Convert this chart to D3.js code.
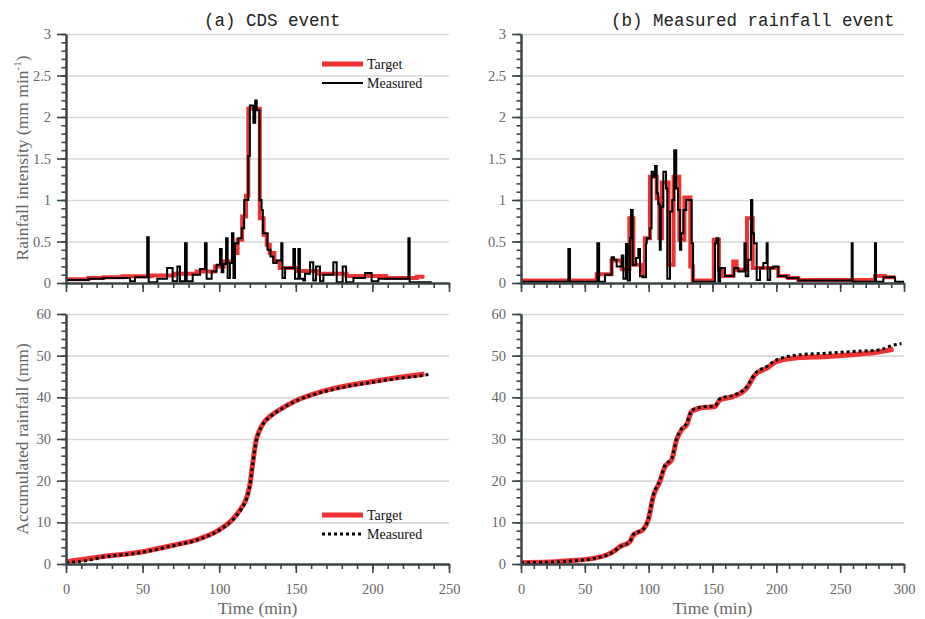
<!DOCTYPE html>
<html>
<head>
<meta charset="utf-8">
<script src="https://cdn.jsdelivr.net/npm/d3@7"></script>
<style>
body { margin: 0; background: #fff; }
</style>
</head>
<body>
<div id="chart-area"></div>
<script>

// ---- data: [time (min), value] ----

// (a) CDS event, rainfall intensity (mm/min), step series
const cdsTarget = [
    [0, 0.045], [14.6, 0.06], [24.4, 0.068], [36.8, 0.08], [55.6, 0.09], [70.5, 0.11],
    [85.3, 0.14], [97.3, 0.2], [103, 0.26], [109, 0.36], [112, 0.52], [115, 0.8],
    [117.5, 1.05], [119, 2.1], [126.5, 0.78], [129, 0.58], [131, 0.46], [133, 0.36],
    [136, 0.26], [139.5, 0.18], [150.5, 0.145], [164, 0.11], [183, 0.085], [209, 0.06],
    [229, 0.075], [234, 0.075]
]
const cdsMeasured = [
    [0, 0.036], [14.6, 0.05], [24.4, 0.06], [41.8, 0.02], [45, 0.07], [53, 0.55], [54, 0.01],
    [59.6, 0.05], [66, 0.18], [69.6, 0.02], [72.7, 0.2], [74.4, 0.02], [77.7, 0.48], [78.8, 0.02],
    [82.7, 0.1], [87.5, 0.17], [90.7, 0.48], [91.8, 0.05], [95.1, 0.14], [98.3, 0.22],
    [100.5, 0.41], [101.6, 0.13], [102.7, 0.23], [104.5, 0.54], [105.5, 0.06], [107, 0.24],
    [108.3, 0.6], [109.3, 0.06], [110.3, 0.48], [112.5, 0.54], [114.7, 0.66], [116.3, 1.0],
    [119, 1.53], [120, 2.14], [122.3, 1.93], [123.5, 2.2], [124.5, 2.08], [126.3, 1.0],
    [127.7, 0.88], [128.5, 0.6], [131.5, 0.4], [133.5, 0.32], [135.3, 0.24], [137.5, 0.27],
    [140.5, 0.48], [141.3, 0.06], [143, 0.18], [148.4, 0.41], [149.5, 0.05], [151.7, 0.41],
    [152.7, 0.05], [154.9, 0.03], [156, 0.11], [159.3, 0.25], [161.4, 0.03], [163.2, 0.2],
    [165.8, 0.02], [168, 0.1], [174.5, 0.25], [176.7, 0.01], [180.6, 0.2], [182.8, 0.01],
    [187.6, 0.06], [195.2, 0.12], [199.5, 0.02], [203.9, 0.05], [223.5, 0.54], [224.3, 0.01],
    [238.7, 0.01]
]

// (b) measured rainfall event, rainfall intensity (mm/min), step series
const eventTarget = [
    [0, 0.03], [59.3, 0.105], [71, 0.27], [78.9, 0.165], [84.9, 0.78], [88, 0.22], [94.5, 0.1],
    [97.1, 0.54], [101, 1.28], [106.3, 1.02], [108.4, 0.54], [110.4, 1.21], [115.6, 0.22],
    [119.5, 1.28], [124, 0.52], [128, 1.03], [132.6, 0.2], [134.5, 0.03], [151, 0.52],
    [155, 0.16], [158.3, 0.085], [166.3, 0.26], [168.9, 0.16], [177, 0.78], [181.5, 0.18],
    [201.5, 0.085], [209.4, 0.06], [217.2, 0.036], [277.3, 0.085], [285.1, 0.07], [293, 0.07]
]
const eventMeasured = [
    [0, 0.016], [37.1, 0.41], [38.4, 0.016], [59.8, 0.48], [61.2, 0.016], [65.8, 0.1], [71, 0.31],
    [72.8, 0.28], [74.9, 0.2], [78.9, 0.33], [80.2, 0.05], [82.2, 0.47], [83.6, 0.03], [85.4, 0.54],
    [86.2, 0.88], [87.5, 0.22], [90.1, 0.3], [91.9, 0.41], [93.2, 0.08], [95.3, 0.07], [97.9, 0.48],
    [98.5, 0.54], [101, 0.66], [102.3, 1.34], [104, 1.28], [105, 1.41], [106.3, 1.08], [107.5, 0.95],
    [108.7, 0.4], [109.5, 0.92], [111.5, 1.34], [113.6, 1.14], [114.6, 0.05], [116.7, 0.86],
    [118.5, 1.0], [120, 1.6], [121.6, 1.14], [123, 0.88], [124.5, 0.4], [125.5, 0.6], [127.2, 0.88],
    [129.5, 1.0], [133.7, 0.48], [134.8, 0.016], [152, 0.48], [153, 0.54], [154.6, 0.016],
    [156, 0.18], [159.8, 0.085], [167, 0.18], [170.2, 0.14], [175, 0.48], [176, 0.08], [178, 0.28],
    [180.2, 1.0], [181.2, 0.6], [182.5, 0.48], [184.6, 0.036], [187.2, 0.18], [189.8, 0.24],
    [192.4, 0.48], [193.2, 0.036], [195.2, 0.18], [197.6, 0.2], [201.5, 0.085], [208, 0.06],
    [217.2, 0.03], [259, 0.48], [259.8, 0.016], [277.3, 0.48], [278.1, 0.016], [283.8, 0.07],
    [293, 0.016], [300, 0.016]
]

// accumulated rainfall (mm)
const cdsTargetAcc = [
    [0, 0.56], [22, 1.7], [50, 2.96], [70, 4.5], [87.5, 6.1], [100, 8.2], [109, 10.8], [114, 13.2],
    [118, 16], [120, 19], [122, 24.5], [124, 29.5], [126, 31.8], [129, 33.9], [133, 35.4],
    [138, 36.7], [150, 39.2], [166, 41.3], [185, 42.9], [200, 43.8], [218, 44.8], [234, 45.6]
]
const cdsMeasuredAcc = [
    [0, 0.3], [15, 0.9], [22, 1.5], [50, 2.8], [70, 4.4], [87.5, 6.0], [100, 8.1], [109, 10.7],
    [114, 13], [118, 15.8], [120, 18.8], [122, 24.3], [124, 29.3], [126, 31.7], [129, 33.8],
    [133, 35.3], [138, 36.6], [150, 39.1], [166, 41.1], [185, 42.7], [200, 43.6], [218, 44.6],
    [234, 45.3], [238, 45.6]
]
const eventTargetAcc = [
    [0, 0.32], [38.4, 0.8], [56.6, 1.36], [67, 2.16], [72.3, 2.96], [77.5, 4.16], [85.3, 5.36],
    [88, 6.96], [95.8, 8.3], [99.7, 10.6], [103.6, 16.2], [108.8, 19.8], [112.8, 23.4], [118, 25],
    [121.9, 29.8], [125.8, 32.2], [129.8, 33.4], [133.7, 36.6], [140.2, 37.4], [152, 37.8],
    [155.9, 39.4], [166.3, 40.2], [176.8, 42.2], [183.3, 45.4], [192.5, 47], [200.3, 48.6],
    [213.3, 49.4], [239.4, 49.8], [265.6, 50.4], [278.6, 50.8], [291.7, 51.6]
]
const eventMeasuredAcc = [
    [0, 0.3], [38.4, 0.7], [56.6, 1.3], [67, 2.1], [72.3, 2.9], [77.5, 4.1], [85.3, 5.4], [88, 7.1],
    [95.8, 8.4], [99.7, 10.8], [103.6, 16.5], [108.8, 20.1], [112.8, 23.7], [118, 25.3],
    [121.9, 30.1], [125.8, 32.5], [129.8, 33.8], [133.7, 36.9], [140.2, 37.6], [152, 38],
    [155.9, 39.7], [166.3, 40.5], [176.8, 42.5], [183.3, 45.7], [192.5, 47.4], [200.3, 49],
    [218.5, 50.2], [239.4, 50.6], [260, 51], [281, 51.4], [289, 52.3], [298, 52.9]
]

// ticks and labels
const intensityTicks = [0, 0.5, 1, 1.5, 2, 2.5, 3]
const accTicks = [0, 10, 20, 30, 40, 50, 60]
const timeTicksA = [0, 50, 100, 150, 200, 250]
const timeTicksB = [0, 50, 100, 150, 200, 250, 300]
const titles = ["(a) CDS event", "(b) Measured rainfall event"]
const legendLabels = ["Target", "Measured"]

// ---- layout ----
const totalWidth = 925
const totalHeight = 619

const AXIS_COLOR = "#3b4547"
const GRID_COLOR = "#d9d9d9"
const TEXT_COLOR = "#666666"
const RED = "#ee3131"
const SERIF = "'Liberation Serif', 'Times New Roman', serif"
const MONO = "'Liberation Mono', 'Courier New', monospace"

const COLS = [
    {left: 66, right: 449, ticks: timeTicksA, minor: 10, titleX: 204},
    {left: 521, right: 904, ticks: timeTicksB, minor: 10, titleX: 611}
]
const ROWS = [
    {top: 34, bottom: 283, ticks: intensityTicks, minor: 0.1},
    {top: 314, bottom: 564, ticks: accTicks, minor: 2}
]

const svg = d3.select("#chart-area")
    .append("svg")
    .attr("width", totalWidth)
    .attr("height", totalHeight)

const styleAxis = function (sel) {
    sel.attr("font-family", null)
    sel.select(".domain").attr("stroke", AXIS_COLOR).attr("stroke-width", 2)
    sel.selectAll(".tick line").attr("stroke", AXIS_COLOR).attr("stroke-width", 1.6)
    sel.selectAll(".tick text")
        .attr("fill", TEXT_COLOR)
        .style("font-family", SERIF)
        .style("font-size", "14.5px")
}

const drawPanel = function (col, row, withXLabels) {
    const tMax = col.ticks[col.ticks.length - 1]
    const vMax = row.ticks[row.ticks.length - 1]
    const xScale = d3.scaleLinear().domain([0, tMax]).range([col.left, col.right])
    const yScale = d3.scaleLinear().domain([0, vMax]).range([row.bottom, row.top])
    const g = svg.append("g")

    // grid
    g.append("g")
        .attr("transform", `translate(${col.left}, 0)`)
        .call(d3.axisLeft(yScale).tickValues(row.ticks).tickSize(-(col.right - col.left)).tickFormat(""))
        .call(s => s.select(".domain").remove())
        .call(s => s.selectAll(".tick line").attr("stroke", GRID_COLOR).attr("stroke-width", 1.6))

    const series = g.append("g")

    // minor ticks
    const minorX = d3.range(0, tMax + 1e-6, col.minor)
    const minorY = d3.range(0, vMax + 1e-6, row.minor)
    g.append("g")
        .attr("transform", `translate(0, ${row.bottom})`)
        .call(d3.axisBottom(xScale).tickValues(minorX).tickSize(5).tickSizeOuter(0).tickFormat(""))
        .call(styleAxis)
    g.append("g")
        .attr("transform", `translate(${col.left}, 0)`)
        .call(d3.axisLeft(yScale).tickValues(minorY).tickSize(4.5).tickSizeOuter(0).tickFormat(""))
        .call(styleAxis)

    // major ticks
    g.append("g")
        .attr("transform", `translate(0, ${row.bottom})`)
        .call(d3.axisBottom(xScale).tickValues(col.ticks).tickSize(9).tickSizeOuter(0)
            .tickPadding(11).tickFormat(withXLabels ? d => String(d) : ""))
        .call(styleAxis)
    g.append("g")
        .attr("transform", `translate(${col.left}, 0)`)
        .call(d3.axisLeft(yScale).tickValues(row.ticks).tickSize(9).tickSizeOuter(0)
            .tickPadding(6).tickFormat(d => String(d)))
        .call(styleAxis)

    return {series, xScale, yScale}
}

const stepPath = function (panel, data, color, width, dash) {
    const line = d3.line()
        .curve(d3.curveStepAfter)
        .x(d => panel.xScale(d[0]))
        .y(d => panel.yScale(d[1]))
    panel.series.append("path")
        .attr("d", line(data))
        .attr("fill", "none")
        .attr("stroke", color)
        .attr("stroke-width", width)
        .style("stroke-dasharray", dash || null)
}

const smoothPath = function (panel, data, color, width, dash) {
    const line = d3.line()
        .curve(d3.curveMonotoneX)
        .x(d => panel.xScale(d[0]))
        .y(d => panel.yScale(d[1]))
    panel.series.append("path")
        .attr("d", line(data))
        .attr("fill", "none")
        .attr("stroke", color)
        .attr("stroke-width", width)
        .style("stroke-dasharray", dash || null)
}

const legend = function (y0, dotted) {
    const items = [
        {label: legendLabels[0], color: RED, width: 5, dash: null},
        {label: legendLabels[1], color: "#000", width: dotted ? 3 : 2, dash: dotted ? "3,3" : null}
    ]
    items.forEach((it, i) => {
        const y = y0 + i * 19
        svg.append("line")
            .attr("x1", 322).attr("x2", 363)
            .attr("y1", y).attr("y2", y)
            .attr("stroke", it.color)
            .attr("stroke-width", it.width)
            .style("stroke-dasharray", it.dash)
        svg.append("text")
            .attr("x", 367)
            .attr("y", y + 4.5)
            .style("font-family", SERIF)
            .style("font-size", "14px")
            .attr("fill", "#111")
            .text(it.label)
    })
}

// panels
const pA = drawPanel(COLS[0], ROWS[0], false)
const pB = drawPanel(COLS[1], ROWS[0], false)
const pC = drawPanel(COLS[0], ROWS[1], true)
const pD = drawPanel(COLS[1], ROWS[1], true)

stepPath(pA, cdsTarget, RED, 4)
stepPath(pA, cdsMeasured, "#000", 2)
stepPath(pB, eventTarget, RED, 4)
stepPath(pB, eventMeasured, "#000", 2)

smoothPath(pC, cdsTargetAcc, RED, 5)
smoothPath(pC, cdsMeasuredAcc, "#000", 3, "3,3")
smoothPath(pD, eventTargetAcc, RED, 5)
smoothPath(pD, eventMeasuredAcc, "#000", 3, "3,3")

legend(64, false)
legend(515, true)

// titles
COLS.forEach((col, i) => {
    svg.append("text")
        .attr("x", col.titleX)
        .attr("y", 26)
        .style("font-family", MONO)
        .style("font-size", "17.5px")
        .attr("fill", "#222")
        .text(titles[i])

    svg.append("text")
        .attr("x", (col.left + col.right) / 2)
        .attr("y", 614)
        .attr("text-anchor", "middle")
        .style("font-family", SERIF)
        .style("font-size", "17.5px")
        .attr("fill", TEXT_COLOR)
        .text("Time (min)")
})

// y axis labels
const yLab1 = svg.append("text")
    .attr("transform", `translate(28, 158) rotate(-90)`)
    .attr("text-anchor", "middle")
    .style("font-family", SERIF)
    .style("font-size", "17.5px")
    .attr("fill", TEXT_COLOR)
yLab1.append("tspan").text("Rainfall intensity (mm min")
yLab1.append("tspan").attr("dy", -7).style("font-size", "11px").text("-1")
yLab1.append("tspan").attr("dy", 7).text(")")

svg.append("text")
    .attr("transform", `translate(28, 439) rotate(-90)`)
    .attr("text-anchor", "middle")
    .style("font-family", SERIF)
    .style("font-size", "17.5px")
    .attr("fill", TEXT_COLOR)
    .text("Accumulated rainfall (mm)")

</script>
</body>
</html>
